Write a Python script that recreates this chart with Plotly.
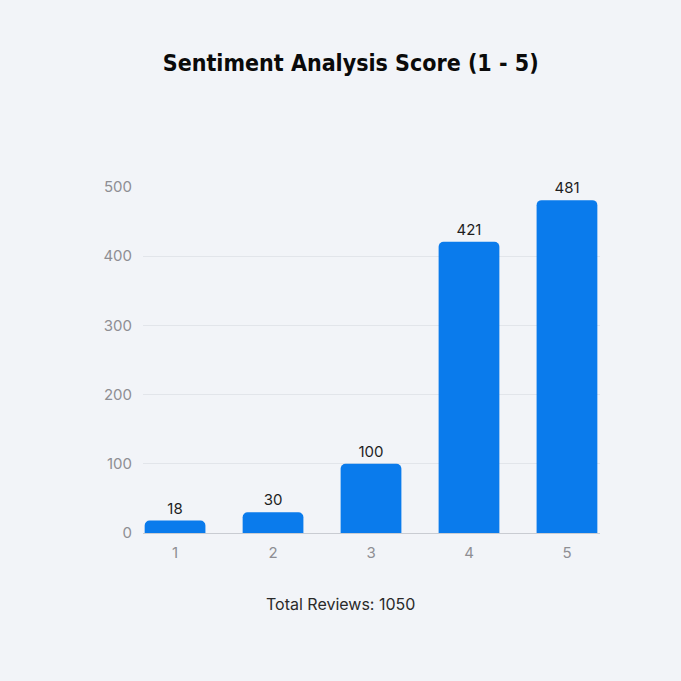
import plotly.graph_objects as go

scores = [1, 2, 3, 4, 5]
counts = [18, 30, 100, 421, 481]
y_ticks = [0, 100, 200, 300, 400, 500]
title_text = "Sentiment Analysis Score (1 - 5)"
footer_text = "Total Reviews: 1050"

BG = "#F2F4F8"
BAR = "#0A7BEC"

fig = go.Figure(
    go.Bar(
        x=scores,
        y=counts,
        width=0.62,
        marker=dict(color=BAR, cornerradius=5, line=dict(width=0)),
        text=[str(c) for c in counts],
        textposition="outside",
        textfont=dict(family="Inter, Lato, sans-serif", size=15, color="#1E1E1E"),
        cliponaxis=False,
        hoverinfo="x+y",
    )
)

fig.update_layout(
    width=681,
    height=681,
    paper_bgcolor=BG,
    plot_bgcolor=BG,
    margin=dict(l=143, r=81, t=187, b=148),
    showlegend=False,
    title=dict(
        text=title_text,
        x=0.515,
        xanchor="center",
        y=1 - 63 / 681,
        yanchor="middle",
        font=dict(family="Liberation Sans Narrow, DejaVu Sans Condensed, Roboto Condensed, Liberation Sans, sans-serif",
                  size=23, color="#0A0A0A", weight="bold"),
    ),
    annotations=[
        dict(
            text=footer_text,
            xref="paper",
            yref="paper",
            x=(340 - 143) / (600 - 143),
            y=(533 - 604) / 346,
            xanchor="center",
            yanchor="middle",
            showarrow=False,
            font=dict(family="Inter, Lato, sans-serif", size=16, color="#2A2A2A"),
        )
    ],
)

fig.update_xaxes(
    range=[0.673, 5.337],
    tickvals=scores,
    ticktext=[str(s) for s in scores],
    showgrid=False,
    zeroline=False,
    showline=True,
    linecolor="#C9CCD2",
    linewidth=1,
    ticks="",
    ticklabelstandoff=6,
    tickfont=dict(family="Inter, Lato, sans-serif", size=15, color="#8E8E93"),
    fixedrange=True,
)

fig.update_yaxes(
    range=[0, 500],
    tickvals=y_ticks,
    showgrid=True,
    gridcolor="#E2E5EA",
    gridwidth=1,
    zeroline=False,
    showline=False,
    ticks="",
    ticklabelstandoff=10,
    tickfont=dict(family="Inter, Lato, sans-serif", size=15, color="#8E8E93"),
    fixedrange=True,
)

fig.write_html(
    "out.html",
    config={"displayModeBar": False},
    post_script="document.body.style.margin='0';document.body.style.overflow='hidden';document.body.style.background='" + BG + "';",
)
